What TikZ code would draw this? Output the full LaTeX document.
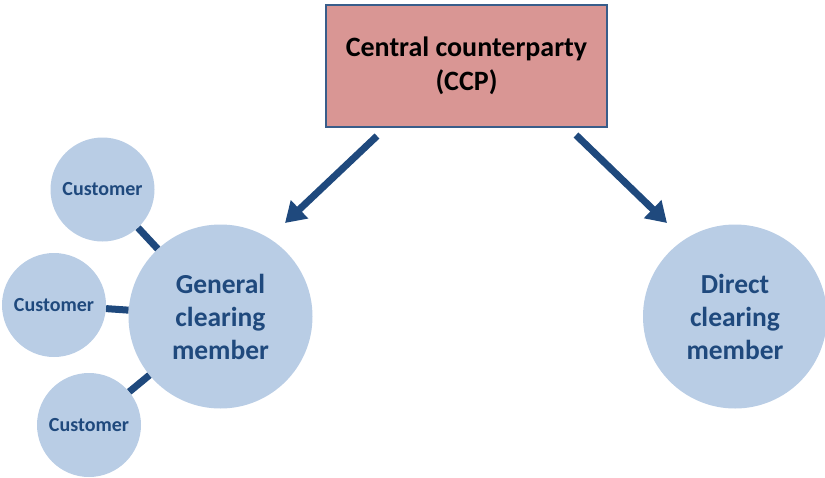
\documentclass[tikz,border=0pt]{standalone}
\usepackage{fontspec}
\setmainfont{Carlito}
\usetikzlibrary{arrows.meta}

\definecolor{ccpred}{HTML}{D99694}
\definecolor{lineblue}{HTML}{385D8A}
\definecolor{darkblue}{HTML}{1F497D}
\definecolor{lightblue}{HTML}{B9CDE5}

\begin{document}
\begin{tikzpicture}[
  x=1pt, y=-1pt,
  bnode/.style={draw=lineblue,line width=1.2pt,fill=ccpred,minimum width=281pt,minimum height=122pt,align=center,font=\bfseries\fontsize{28}{34}\selectfont},
  mnode/.style={circle,fill=lightblue,minimum size=184pt,inner sep=0pt,align=center,text=darkblue,font=\bfseries\fontsize{27.5}{33}\selectfont},
  cnode/.style={circle,fill=lightblue,minimum size=104pt,inner sep=0pt,text=darkblue,font=\bfseries\fontsize{20}{24}\selectfont},
  link/.style={draw=darkblue,line width=7pt},
  flow/.style={draw=darkblue,line width=7pt,-{Triangle[length=20pt,width=24pt]}}
]
  \useasboundingbox (0,0) rectangle (825,477);

  % top box
  \node[bnode] (ccp) at (466.5,66) {Central counterparty\\(CCP)};

  % members
  \node[mnode] (gcm) at (220.5,316.5) {General\\clearing\\member};
  \node[mnode] (dcm) at (735,316.5) {Direct\\clearing\\member};

  % customers
  \node[cnode] (c1) at (102.5,189.5) {Customer};
  \node[cnode] (c2) at (54,305) {Customer};
  \node[cnode] (c3) at (89,425) {Customer};

  % customer links
  \draw[link] (c1) -- (gcm);
  \draw[link] (c2) -- (gcm);
  \draw[link] (c3) -- (gcm);

  % arrows
  \coordinate (a1) at (377,136);
  \coordinate (a2) at (285,223);
  \coordinate (b1) at (576,135);
  \coordinate (b2) at (667,223);
  \draw[flow] (a1) -- (a2);
  \draw[flow] (b1) -- (b2);

\end{tikzpicture}
\end{document}
